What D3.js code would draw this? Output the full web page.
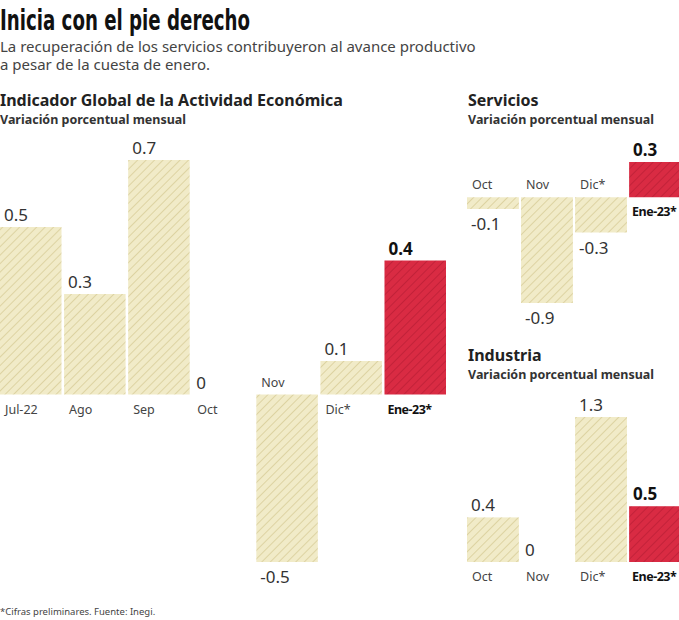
<!DOCTYPE html>
<html>
<head>
<meta charset="utf-8">
<script src="https://cdn.jsdelivr.net/npm/d3@7"></script>
<style>
  body { margin: 0; background: #fff; }
  svg { display: block; font-family: "Noto Sans", "Open Sans", sans-serif; }
</style>
</head>
<body>
<svg id="chart" width="679" height="620"></svg>
<script>
// datos
const igaeCats = ["Jul-22", "Ago", "Sep", "Oct", "Nov", "Dic*", "Ene-23*"];
const igaeVals = [0.5, 0.3, 0.7, 0, -0.5, 0.1, 0.4];

const servCats = ["Oct", "Nov", "Dic*", "Ene-23*"];
const servVals = [-0.1, -0.9, -0.3, 0.3];

const indCats = ["Oct", "Nov", "Dic*", "Ene-23*"];
const indVals = [0.4, 0, 1.3, 0.5];

const svg = d3.select("#chart");

// patrones rayados
const defs = svg.append("defs");
function hatch(id, bg, line) {
  const p = defs.append("pattern")
    .attr("id", id)
    .attr("patternUnits", "userSpaceOnUse")
    .attr("width", 6).attr("height", 6)
    .attr("patternTransform", "rotate(45)");
  p.append("rect").attr("width", 6).attr("height", 6).attr("fill", bg);
  p.append("line").attr("x1", 0).attr("y1", 0).attr("x2", 0).attr("y2", 6)
    .attr("stroke", line).attr("stroke-width", 1.6);
}
hatch("beige", "#f1ebc8", "#d8cd98");
hatch("rojo", "#d92b43", "#bd1f36");

// textos
svg.append("text").attr("x", 0).attr("y", 30)
  .attr("textLength", 250).attr("lengthAdjust", "spacingAndGlyphs")
  .style("font-family", "'DejaVu Sans Condensed', 'Liberation Sans Narrow', sans-serif")
  .style("font-size", "29px").style("font-weight", "bold").style("fill", "#111")
  .text("Inicia con el pie derecho");

svg.append("text").attr("x", 0).attr("y", 52)
  .style("font-size", "15px").style("fill", "#444")
  .text("La recuperación de los servicios contribuyeron al avance productivo");
svg.append("text").attr("x", 0).attr("y", 70)
  .style("font-size", "15px").style("fill", "#444")
  .text("a pesar de la cuesta de enero.");

function header(x, y, title, sub) {
  svg.append("text").attr("x", x).attr("y", y)
    .style("font-size", "16px").style("font-weight", "bold").style("fill", "#222")
    .text(title);
  svg.append("text").attr("x", x).attr("y", y + 18)
    .style("font-size", "12.5px").style("font-weight", "bold").style("fill", "#333")
    .text(sub);
}
header(0, 106, "Indicador Global de la Actividad Económica", "Variación porcentual mensual");
header(468, 106, "Servicios", "Variación porcentual mensual");
header(468, 361, "Industria", "Variación porcentual mensual");

svg.append("text").attr("x", 0).attr("y", 615)
  .style("font-size", "9.5px").style("fill", "#444")
  .text("*Cifras preliminares. Fuente: Inegi.");

// función de barras
function barras(cats, vals, xr, yd, yr) {
  const x = d3.scaleBand().domain(cats).range(xr).paddingInner(0.04);
  const y = d3.scaleLinear().domain(yd).range(yr);
  const last = cats.length - 1;
  const g = svg.append("g");

  g.selectAll("rect")
    .data(vals)
    .enter()
    .append("rect")
    .attr("x", (d, i) => x(cats[i]))
    .attr("width", x.bandwidth())
    .attr("y", d => y(Math.max(0, d)))
    .attr("height", d => Math.abs(y(d) - y(0)))
    .attr("fill", (d, i) => i == last ? "url(#rojo)" : "url(#beige)");

  // valores
  g.selectAll(".val")
    .data(vals)
    .enter()
    .append("text")
    .attr("x", (d, i) => x(cats[i]) + 4)
    .attr("y", d => d >= 0 ? y(d) - 6 : y(d) + 21)
    .style("font-size", "17px")
    .style("font-weight", (d, i) => i == last ? "bold" : "normal")
    .style("fill", (d, i) => i == last ? "#111" : "#333")
    .text(d => d);

  // etiquetas
  g.selectAll(".cat")
    .data(vals)
    .enter()
    .append("text")
    .attr("x", (d, i) => x(cats[i]) + (i == last ? 3 : 5))
    .attr("y", d => d >= 0 ? y(0) + 19 : y(0) - 8)
    .style("font-size", "12.5px")
    .style("letter-spacing", (d, i) => i == last ? "-0.5px" : "0px")
    .style("font-weight", (d, i) => i == last ? "bold" : "normal")
    .style("fill", (d, i) => i == last ? "#111" : "#444")
    .text((d, i) => cats[i]);
}

barras(igaeCats, igaeVals, [0, 446], [-0.5, 0.7], [562, 160]);
barras(servCats, servVals, [467, 681], [-0.9, 0.3], [303, 162]);
barras(indCats, indVals, [467, 681], [0, 1.3], [562, 417]);
</script>
</body>
</html>
